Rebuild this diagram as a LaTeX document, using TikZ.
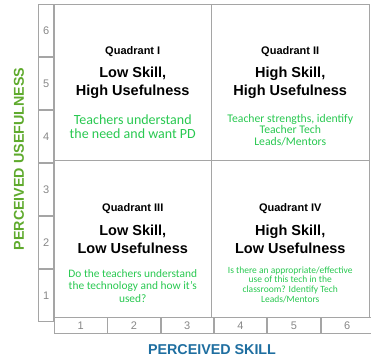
\documentclass[tikz,border=0pt]{standalone}
\usepackage{fontspec}
\setmainfont{Liberation Sans}
\newfontfamily\notefont{Carlito}
\usetikzlibrary{matrix,positioning}

\definecolor{gridgray}{RGB}{165,165,165}
\definecolor{numgray}{RGB}{135,135,135}
\definecolor{axisgreen}{RGB}{95,170,45}
\definecolor{axisblue}{RGB}{30,110,160}
\definecolor{notegreen}{RGB}{40,200,80}

\begin{document}
\begin{tikzpicture}[x=1pt,y=1pt,
  quad/.style={draw=gridgray, line width=0.8pt, minimum width=157.5pt,
               minimum height=156.6pt, inner sep=0, outer sep=0},
  tickcell/.style={draw=gridgray, line width=0.8pt, inner sep=0, outer sep=0,
               text=numgray, font=\fontsize{11}{12}\selectfont},
  quadname/.style={font=\bfseries\fontsize{11}{12}\selectfont},
  quadhead/.style={font=\bfseries\fontsize{14.5}{18}\selectfont, align=center},
  quadnote/.style={text=notegreen, align=center, inner sep=0},
  axislabel/.style={font=\bfseries\fontsize{14.3}{16}\selectfont}]
\useasboundingbox (0,0) rectangle (371,360);

% the four quadrants
\node[quad, anchor=north west] (q1) at (54,356) {};
\node[quad, right=0pt of q1] (q2) {};
\node[quad, below=0pt of q1] (q3) {};
\node[quad, right=0pt of q3] (q4) {};

% scales
\matrix (ytick) [matrix of nodes,
                 nodes={tickcell, minimum width=15pt, minimum height=52.2pt},
                 row sep=0pt, inner sep=0, outer sep=0,
                 anchor=north east] at (q1.north west)
  {
    6 \\ 5 \\ 4 \\ 3 \\ 2 \\ 1 \\
  };
\matrix (xtick) [matrix of nodes,
                 nodes={tickcell, minimum width=52.5pt, minimum height=16pt},
                 column sep=0pt, inner sep=0, outer sep=0,
                 anchor=north west] at (q3.south west)
  {
    1 & 2 & 3 & 4 & 5 & 6 \\
  };

% quadrant texts
\node[quadname] (n1) at ([yshift=-48pt]q1.north) {Quadrant I};
\node[quadhead] (h1) at ([yshift=-79pt]q1.north) {Low Skill,\\High Usefulness};
\node[quadnote, font=\notefont\fontsize{14}{14}\selectfont] (t1) at ([yshift=-123pt]q1.north)
  {Teachers understand\\the need and want PD};

\node[quadname] (n2) at ([yshift=-48pt]q2.north) {Quadrant II};
\node[quadhead] (h2) at ([yshift=-79pt]q2.north) {High Skill,\\High Usefulness};
\node[quadnote, font=\notefont\fontsize{11.7}{11.5}\selectfont] (t2) at ([yshift=-126pt]q2.north)
  {Teacher strengths, identify\\Teacher Tech\\Leads/Mentors};

\node[quadname] (n3) at ([yshift=-48pt]q3.north) {Quadrant III};
\node[quadhead] (h3) at ([yshift=-79pt]q3.north) {Low Skill,\\Low Usefulness};
\node[quadnote, font=\notefont\fontsize{11.4}{12.5}\selectfont] (t3) at ([yshift=-125pt]q3.north)
  {Do the teachers understand\\the technology and how it’s\\used?};

\node[quadname] (n4) at ([yshift=-48pt]q4.north) {Quadrant IV};
\node[quadhead] (h4) at ([yshift=-79pt]q4.north) {High Skill,\\Low Usefulness};
\node[quadnote, font=\notefont\fontsize{9.5}{9.8}\selectfont] (t4) at ([yshift=-124pt]q4.north)
  {Is there an appropriate/effective\\use of this tech in the\\classroom? Identify Tech\\Leads/Mentors};

% axis titles
\node[axislabel, text=axisgreen, rotate=90] (ylab) at (19,201) {PERCEIVED USEFULNESS};
\node[axislabel, text=axisblue] (xlab) at (212,10) {PERCEIVED SKILL};
\end{tikzpicture}
\end{document}
